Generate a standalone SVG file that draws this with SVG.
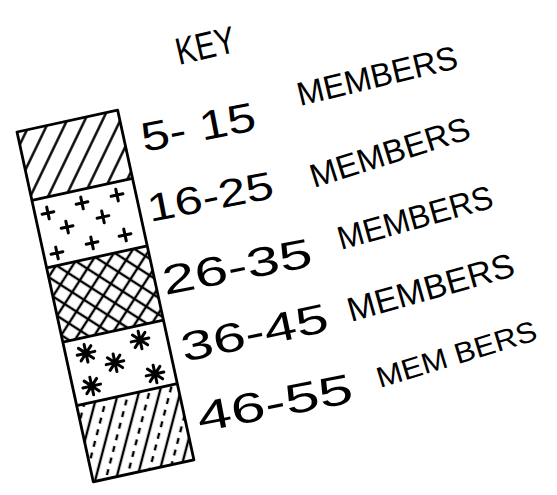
<svg xmlns="http://www.w3.org/2000/svg" width="557" height="495" viewBox="0 0 557 495">
<style>
.t{font-family:"Liberation Sans",Arial,sans-serif;fill:#000}
.num{font-size:41px}
.mem{font-size:33px}
.box{fill:none;stroke:#000;stroke-width:2.8;stroke-linejoin:round}
.mk{stroke:#000;stroke-width:3;fill:none;stroke-linecap:round}
.pl{stroke:#000;stroke-width:2.4;fill:none}
</style>
<defs>
<pattern id="hatch" patternUnits="userSpaceOnUse" width="16" height="16" patternTransform="rotate(38)">
<line class="pl" x1="8" y1="-1" x2="8" y2="17"/>
</pattern>
<pattern id="cross" patternUnits="userSpaceOnUse" width="14" height="14" patternTransform="rotate(45)">
<line class="pl" x1="7" y1="-1" x2="7" y2="15"/>
<line class="pl" x1="-1" y1="7" x2="15" y2="7"/>
</pattern>
<pattern id="dash" patternUnits="userSpaceOnUse" width="20" height="12" patternTransform="rotate(27)">
<line class="pl" x1="4" y1="-1" x2="4" y2="13"/>
<line class="pl" x1="14" y1="3" x2="14" y2="9"/>
</pattern>
<path id="plus" d="M-6,0H6M0,-6V6"/>
<path id="ast" d="M0,-9V9M-9,0H9M-6.4,-6.4L6.4,6.4M-6.4,6.4L6.4,-6.4"/>
</defs>

<g id="key-box" transform="translate(17,132) rotate(-12.3)">
  <g id="band-5-15">
    <rect x="0" y="0" width="103" height="70" fill="url(#hatch)"/>
  </g>
  <g id="band-16-25" class="mk">
    <use href="#plus" x="13" y="85.7"/>
    <use href="#plus" x="48.4" y="83.2"/>
    <use href="#plus" x="84.3" y="82.9"/>
    <use href="#plus" x="28.7" y="103.5"/>
    <use href="#plus" x="65.9" y="101.3"/>
    <use href="#plus" x="13.3" y="126.7"/>
    <use href="#plus" x="49.7" y="124.4"/>
    <use href="#plus" x="83.6" y="123.6"/>
  </g>
  <g id="band-26-35">
    <rect x="0" y="139" width="103" height="76" fill="url(#cross)"/>
  </g>
  <g id="band-36-45" class="mk">
    <use href="#ast" x="20.3" y="230.9"/>
    <use href="#ast" x="46.6" y="246.3"/>
    <use href="#ast" x="75.9" y="229.4"/>
    <use href="#ast" x="83.3" y="265.8"/>
    <use href="#ast" x="18.9" y="264.1"/>
  </g>
  <g id="band-46-55">
    <rect x="0" y="280" width="103" height="78" fill="url(#dash)"/>
  </g>
  <g id="outline" class="box">
    <rect x="0" y="0" width="103" height="358"/>
    <path d="M0,70H103M0,139H103M0,215H103M0,280H103"/>
  </g>
</g>

<g id="title">
  <text class="t" x="179" y="65" font-size="38" textLength="60" lengthAdjust="spacingAndGlyphs" transform="rotate(-13,179,65)">KEY</text>
</g>
<g id="label-1">
  <text class="t num" x="144" y="152" textLength="116" lengthAdjust="spacingAndGlyphs" transform="rotate(-11,144,152)">5- 15</text>
  <text class="t mem" x="300" y="106" textLength="164" lengthAdjust="spacingAndGlyphs" transform="rotate(-13.5,300,106)">MEMBERS</text>
</g>
<g id="label-2">
  <text class="t num" x="150" y="222" textLength="128" lengthAdjust="spacingAndGlyphs" transform="rotate(-11,150,222)" style="font-size:39px">16-25</text>
  <text class="t mem" x="314" y="188" textLength="166" lengthAdjust="spacingAndGlyphs" transform="rotate(-17.5,314,188)">MEMBERS</text>
</g>
<g id="label-3">
  <text class="t num" x="165" y="295" textLength="152" lengthAdjust="spacingAndGlyphs" transform="rotate(-11,165,295)">26-35</text>
  <text class="t mem" x="341" y="250" textLength="160" lengthAdjust="spacingAndGlyphs" transform="rotate(-15.6,341,250)">MEMBERS</text>
</g>
<g id="label-4">
  <text class="t num" x="184" y="362" textLength="150" lengthAdjust="spacingAndGlyphs" transform="rotate(-12,184,362)">36-45</text>
  <text class="t mem" x="351" y="322" textLength="172" lengthAdjust="spacingAndGlyphs" transform="rotate(-15.7,351,322)" style="font-size:34px">MEMBERS</text>
</g>
<g id="label-5">
  <text class="t num" x="200" y="432" textLength="158" lengthAdjust="spacingAndGlyphs" transform="rotate(-11,200,432)" style="font-size:42px">46-55</text>
  <text class="t mem" x="380" y="388" textLength="166" lengthAdjust="spacingAndGlyphs" transform="rotate(-17,380,388)" style="font-size:29px">MEM BERS</text>
</g>
</svg>
